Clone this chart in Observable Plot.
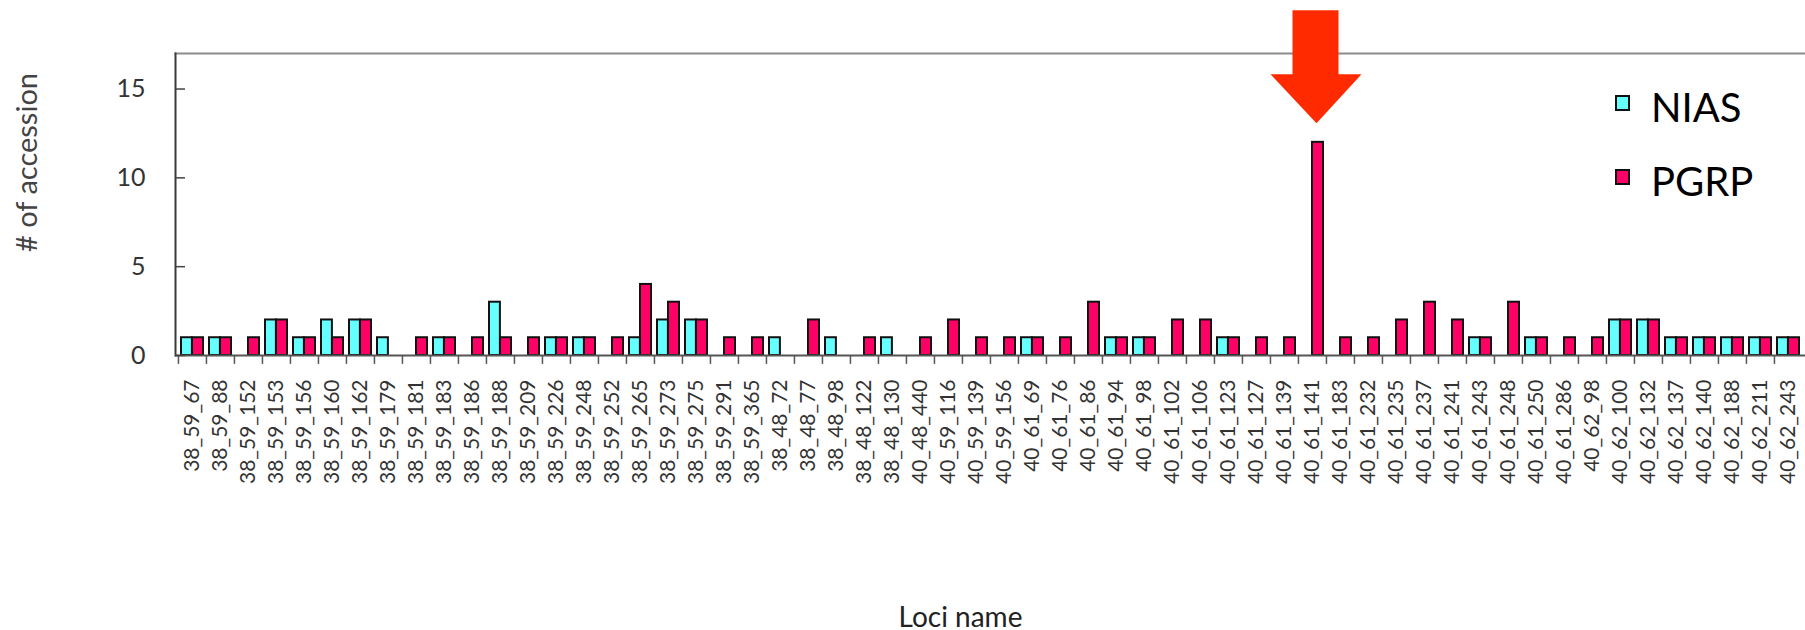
<!DOCTYPE html>
<html>
<head>
<meta charset="utf-8">
<script src="https://cdn.jsdelivr.net/npm/d3@7"></script>
<script src="https://cdn.jsdelivr.net/npm/@observablehq/plot@0.6"></script>
<style>
  html, body { margin: 0; padding: 0; background: #fff; overflow: hidden; }
  #chart { width: 1805px; height: 630px; }
</style>
</head>
<body>
<div id="chart"></div>
<script>
// ---- data ----
const loci = [
  "38_59_67","38_59_88","38_59_152","38_59_153","38_59_156","38_59_160","38_59_162","38_59_179",
  "38_59_181","38_59_183","38_59_186","38_59_188","38_59_209","38_59_226","38_59_248","38_59_252",
  "38_59_265","38_59_273","38_59_275","38_59_291","38_59_365","38_48_72","38_48_77","38_48_98",
  "38_48_122","38_48_130","40_48_440","40_59_116","40_59_139","40_59_156","40_61_69","40_61_76",
  "40_61_86","40_61_94","40_61_98","40_61_102","40_61_106","40_61_123","40_61_127","40_61_139",
  "40_61_141","40_61_183","40_61_232","40_61_235","40_61_237","40_61_241","40_61_243","40_61_248",
  "40_61_250","40_61_286","40_62_98","40_62_100","40_62_132","40_62_137","40_62_140","40_62_188",
  "40_62_211","40_62_243"
];
const niasCounts = [
  1,1,0,2,1,2,2,1, 0,1,0,3,0,1,1,0, 1,2,2,0,0,1,0,1, 0,1,0,0,0,0,1,0,
  0,1,1,0,0,1,0,0, 0,0,0,0,0,0,1,0, 1,0,0,2,2,1,1,1, 1,1
];
const pgrpCounts = [
  1,1,1,2,1,1,2,0, 1,1,1,1,1,1,1,1, 4,3,2,1,1,0,2,0, 1,0,1,2,1,1,1,1,
  3,1,1,2,2,1,1,1, 12,1,1,2,3,2,1,3, 1,1,1,2,2,1,1,1, 1,1
];
const seriesNames = ["NIAS", "PGRP"];
const seriesColors = ["#66FFFF", "#FF0066"];
const yTicks = [0, 5, 10, 15];
const yTitle = "# of accession";
const xTitle = "Loci name";

// ---- table ----
const nias = loci.map((l, i) => ({locus: l, value: niasCounts[i]})).filter(d => d.value > 0);
const pgrp = loci.map((l, i) => ({locus: l, value: pgrpCounts[i]})).filter(d => d.value > 0);
const peakIndex = d3.maxIndex(pgrpCounts);
const peak = [{locus: loci[peakIndex], value: pgrpCounts[peakIndex]}];

// ---- layout ----
const W = 1805, H = 630;
const mL = 175, mR = 0, mT = 53, mB = 275;
const bw = (W - mL - mR) / loci.length;

// block arrow symbol (tip at origin, pointing down)
const blockArrow = {
  draw(ctx) {
    ctx.moveTo(0, 0);
    ctx.lineTo(-46, -49);
    ctx.lineTo(-24, -49);
    ctx.lineTo(-24, -113);
    ctx.lineTo(22, -113);
    ctx.lineTo(22, -49);
    ctx.lineTo(45, -49);
    ctx.closePath();
  }
};

const chart = Plot.plot({
  width: W,
  height: H,
  marginLeft: mL,
  marginRight: mR,
  marginTop: mT,
  marginBottom: mB,
  style: {fontFamily: "Lato, 'Open Sans', sans-serif", background: "#fff", overflow: "visible"},
  x: {type: "band", domain: loci, padding: 0, label: null},
  y: {domain: [0, 17], label: null},
  marks: [
    Plot.frame({anchor: "top", stroke: "#8c8c8c", strokeWidth: 2}),
    Plot.frame({anchor: "left", stroke: "#3a3a3a", strokeWidth: 2}),
    Plot.barY(nias, {x: "locus", y: "value", fill: seriesColors[0], stroke: "#111", strokeWidth: 2,
      insetLeft: 3, insetRight: bw - 14}),
    Plot.barY(pgrp, {x: "locus", y: "value", fill: seriesColors[1], stroke: "#111", strokeWidth: 2,
      insetLeft: 14, insetRight: 3}),
    Plot.ruleY([0], {stroke: "#555", strokeWidth: 2}),
    Plot.ruleX(loci, {x: d => d, y1: 0, y2: -0.5, dx: -bw / 2, stroke: "#555", strokeWidth: 1.5}),
    Plot.axisX({tickSize: 0, tickRotate: -90, tickPadding: 24, fontSize: 21, fill: "#333", label: null}),
    Plot.axisY({ticks: yTicks, tickSize: 10, dx: 10, tickPadding: 30, fontSize: 25, fill: "#333",
      stroke: "#444", strokeWidth: 1.5, label: null}),
    Plot.text([yTitle], {frameAnchor: "left", rotate: -90, dx: -148, dy: -42, fontSize: 29,
      fill: "#444", textAnchor: "middle", lineAnchor: "middle"}),
    Plot.text([xTitle], {frameAnchor: "bottom", dx: -30, dy: 263, fontSize: 28,
      fill: "#222", textAnchor: "middle", lineAnchor: "middle"}),
    Plot.dot(peak, {x: "locus", y: "value", symbol: blockArrow, fill: "#FF2A00", stroke: "none",
      dx: 4, dy: -19})
  ]
});

// legend
const svg = d3.select(chart);
const leg = svg.append("g").attr("font-family", "Lato, 'Open Sans', sans-serif").attr("text-anchor", "start");
const legendRows = [{y: 96, base: 122}, {y: 170, base: 196}];
seriesNames.forEach((name, i) => {
  leg.append("rect").attr("x", 1616).attr("y", legendRows[i].y).attr("width", 13).attr("height", 14)
    .attr("fill", seriesColors[i]).attr("stroke", "#111").attr("stroke-width", 2);
  leg.append("text").attr("x", 1651).attr("y", legendRows[i].base).attr("font-size", 40)
    .attr("text-anchor", "start").attr("fill", "#000").text(name);
});

document.getElementById("chart").appendChild(chart);
</script>
</body>
</html>
